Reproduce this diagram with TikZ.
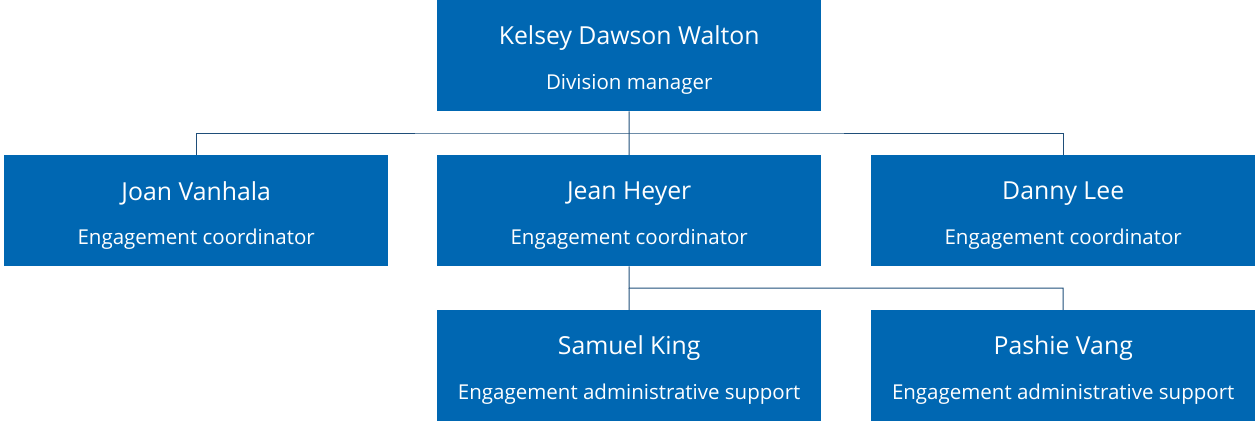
\documentclass[tikz,border=0pt]{standalone}
\usepackage{fontspec}
\setmainfont{Open Sans}
\definecolor{boxblue}{HTML}{0067B2}
\definecolor{linkblue}{HTML}{1F4E79}
\begin{document}
\begin{tikzpicture}[x=1pt,y=-1pt,
  person/.style={fill=boxblue,draw=none,minimum width=384pt,minimum height=111pt,inner sep=0pt,anchor=north west},
  nm/.style={text=white,font=\fontsize{24.8}{29}\selectfont},
  rl/.style={text=white,font=\fontsize{20.5}{24}\selectfont},
  link/.style={draw=linkblue,line width=1pt}]
\useasboundingbox (0,0) rectangle (1255,423);
\node[person] (kel) at (437,0) {};
\node[person] (joan) at (4,155) {};
\node[person] (jean) at (437,155) {};
\node[person] (danny) at (871,155) {};
\node[person] (sam) at (437,310) {};
\node[person] (pash) at (871,310) {};
\foreach \n/\a/\b in {kel/Kelsey Dawson Walton/Division manager,
  joan/Joan Vanhala/Engagement coordinator,
  jean/Jean Heyer/Engagement coordinator,
  danny/Danny Lee/Engagement coordinator,
  sam/Samuel King/Engagement administrative support,
  pash/Pashie Vang/Engagement administrative support}{
  \node[nm] (\n-name) at ([yshift=17.5pt]\n.center) {\a};
  \node[rl] (\n-role) at ([yshift=-28.5pt]\n.center) {\b};
}
\coordinate (j1) at (629,133);
\coordinate (j2) at (629,288);
\draw[link] (kel.south) -- (j1);
\draw[link] (joan.north) |- (j1) -| (danny.north);
\draw[link] (j1) -- (jean.north);
\draw[link] (jean.south) -- (j2) -| (pash.north);
\draw[link] (j2) -- (sam.north);
\end{tikzpicture}
\end{document}
